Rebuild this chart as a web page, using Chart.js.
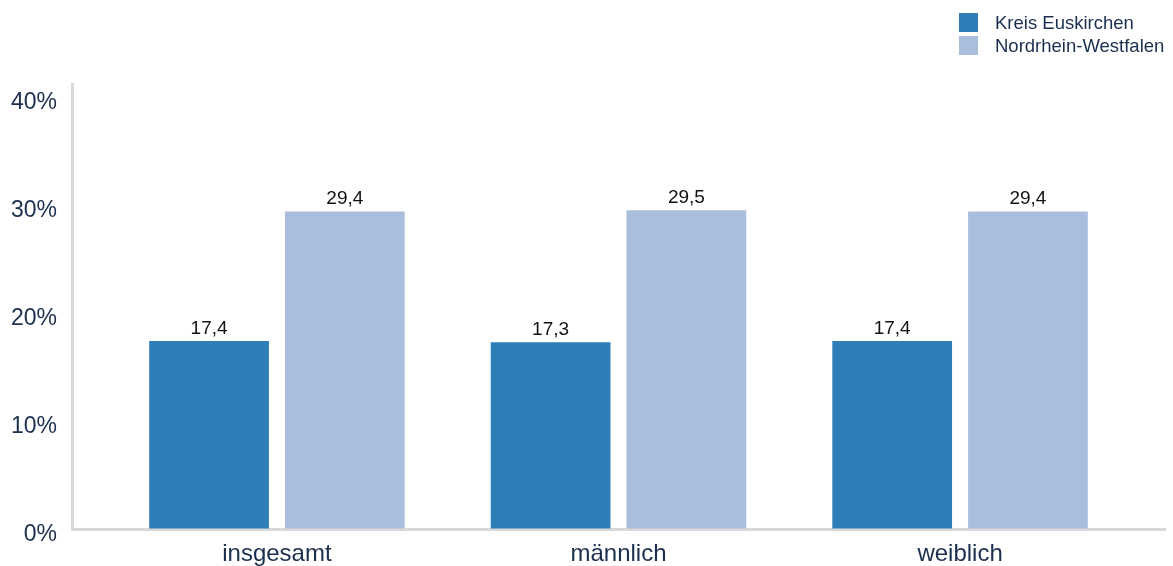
<!DOCTYPE html>
<html>
<head>
<meta charset="utf-8">
<script src="https://cdn.jsdelivr.net/npm/chart.js@4/dist/chart.umd.min.js"></script>
<style>
  body{margin:0;background:#fff;font-family:"Liberation Sans",Arial,sans-serif;}
  #wrap{position:relative;width:1173px;height:566px;overflow:hidden;}
  #legend{position:absolute;left:959px;top:11px;}
  .leg-item{display:flex;align-items:center;height:23px;font-size:18.5px;color:#1b2f4f;}
  .leg-box{width:19px;height:19px;margin-right:17px;}
</style>
</head>
<body>
<div id="wrap">
  <canvas id="chart" width="1173" height="566"></canvas>
  <div id="legend"></div>
</div>
<script>
const categories = ['insgesamt', 'männlich', 'weiblich'];
const seriesNames = ['Kreis Euskirchen', 'Nordrhein-Westfalen'];
const kreisValues = [17.4, 17.3, 17.4];
const nrwValues = [29.4, 29.5, 29.4];
const yTicks = [0, 10, 20, 30, 40];
const colors = ['#2e7fb8', '#a9bedc'];

const navy = '#1b2f4f';
const axisGrey = '#d9d9d9';
const fontFam = '"Liberation Sans", Arial, sans-serif';

// values above bars, german decimal comma
const barLabels = {
  id: 'barLabels',
  afterDatasetsDraw(chart){
    const ctx = chart.ctx;
    ctx.save();
    ctx.font = '19px ' + fontFam;
    ctx.fillStyle = '#111';
    ctx.textAlign = 'center';
    ctx.textBaseline = 'alphabetic';
    chart.data.datasets.forEach((ds, i) => {
      chart.getDatasetMeta(i).data.forEach((bar, j) => {
        const txt = ds.data[j].y.toLocaleString('de-DE', {minimumFractionDigits: 1});
        ctx.fillText(txt, bar.x, bar.y - 7);
      });
    });
    ctx.restore();
  }
};

const toPoints = vals => vals.map((v, i) => ({x: i, y: v}));

new Chart('chart', {
  type: 'bar',
  data: {
    datasets: [
      {label: seriesNames[0], data: toPoints(kreisValues), backgroundColor: colors[0]},
      {label: seriesNames[1], data: toPoints(nrwValues), backgroundColor: colors[1]}
    ]
  },
  options: {
    responsive: false,
    animation: false,
    devicePixelRatio: 1,
    categoryPercentage: 0.795,
    barPercentage: 0.882,
    layout: {padding: {top: 84, right: 8, bottom: 0, left: 0}},
    plugins: {legend: {display: false}, tooltip: {enabled: false}},
    scales: {
      x: {
        type: 'linear',
        min: -0.6,
        max: 2.6,
        offset: false,
        grid: {color: 'rgba(0,0,0,0)', drawTicks: false, offset: false},
        border: {color: axisGrey, width: 3},
        afterBuildTicks: s => { s.ticks = categories.map((c, i) => ({value: i})); },
        afterFit: s => { s.height = 37; },
        ticks: {
          padding: 11,
          color: navy,
          font: {size: 24, family: fontFam},
          maxRotation: 0,
          autoSkip: false,
          callback: v => categories[v]
        }
      },
      y: {
        min: 0,
        max: 41.2,
        grid: {color: 'rgba(0,0,0,0)', drawTicks: false},
        border: {color: axisGrey, width: 3},
        afterBuildTicks: s => { s.ticks = yTicks.map(v => ({value: v})); },
        afterFit: s => { s.width = 72; },
        ticks: {
          padding: 15,
          labelOffset: 6,
          color: navy,
          font: {size: 23, family: fontFam},
          callback: v => v + '%'
        }
      }
    }
  },
  plugins: [barLabels]
});

// legend, stacked to the top right
const legend = document.getElementById('legend');
seriesNames.forEach((name, i) => {
  const item = document.createElement('div');
  item.className = 'leg-item';
  item.innerHTML = '<span class="leg-box" style="background:' + colors[i] + '"></span>' + name;
  legend.appendChild(item);
});
</script>
</body>
</html>
